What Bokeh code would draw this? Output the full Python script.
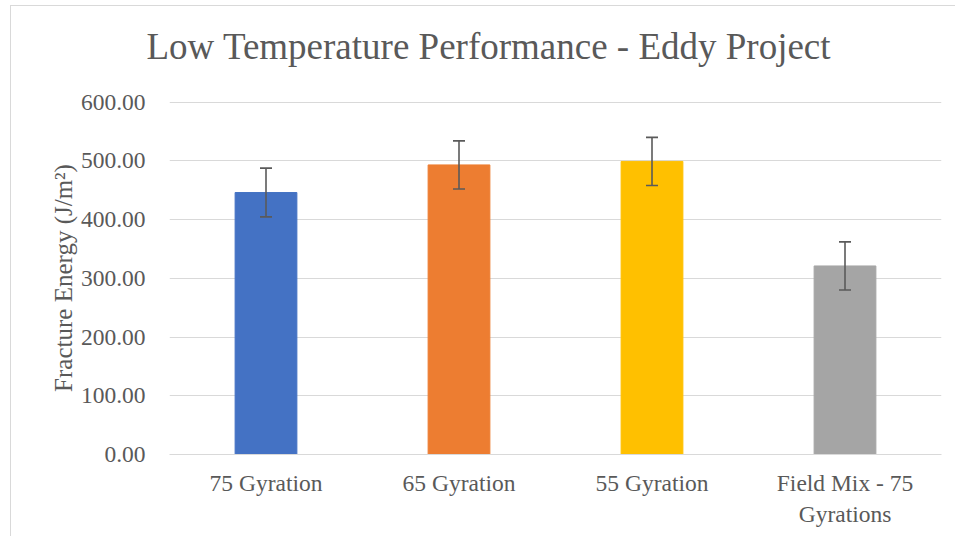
from bokeh.plotting import figure
from bokeh.models import (ColumnDataSource, Whisker, TeeHead, Range1d,
                          NumeralTickFormatter, FactorRange, Title)
from bokeh.embed import file_html
from bokeh.resources import INLINE

# ---- data ----
categories = ["75 Gyration", "65 Gyration", "55 Gyration", "Field Mix - 75\nGyrations"]
values = [446.0, 493.0, 499.0, 321.0]
errors = [41.5, 41.0, 41.0, 41.0]
bar_colors = ["#4472C4", "#ED7D31", "#FFC000", "#A5A5A5"]
y_ticks = [0, 100, 200, 300, 400, 500, 600]

TEXT = "#595959"
GRID = "#D9D9D9"
FONT = "Liberation Serif"

src = ColumnDataSource(dict(
    cat=categories,
    val=values,
    upper=[v + e for v, e in zip(values, errors)],
    lower=[v - e for v, e in zip(values, errors)],
    color=bar_colors,
))

p = figure(x_range=FactorRange(*categories), y_range=Range1d(0, 601),
           width=945, height=531, output_backend="svg", toolbar_location=None,
           min_border_left=158, min_border_right=15,
           min_border_top=95, min_border_bottom=83)

p.title = Title(text="Low Temperature Performance - Eddy Project",
                text_font=FONT, text_font_size="37px", text_font_style="normal",
                text_color=TEXT, align="left", offset=-23, standoff=10,
                padding=dict(left=0, right=0, top=0, bottom=30))

p.vbar(x="cat", top="val", width=0.32, color="color", source=src)

whisk = Whisker(base="cat", upper="upper", lower="lower", source=src,
                line_color="#5A5A5A", line_width=1.6, level="annotation",
                upper_head=TeeHead(size=12, line_color="#5A5A5A", line_width=1.6),
                lower_head=TeeHead(size=12, line_color="#5A5A5A", line_width=1.6))
p.add_layout(whisk)

# frame / grid
p.outline_line_color = None
p.xgrid.grid_line_color = None
p.ygrid.grid_line_color = GRID
p.ygrid.grid_line_width = 1
p.background_fill_color = "white"
p.border_fill_color = "white"

# y axis
p.yaxis.ticker = y_ticks
p.yaxis.formatter = NumeralTickFormatter(format="0.00")
p.yaxis.axis_line_color = None
p.yaxis.major_tick_line_color = None
p.yaxis.minor_tick_line_color = None
p.yaxis.major_label_text_font = FONT
p.yaxis.major_label_text_font_size = "23.5px"
p.yaxis.major_label_text_color = TEXT
p.yaxis.major_label_standoff = 18
p.yaxis.axis_label = "Fracture Energy (J/m²)"
p.yaxis.axis_label_text_font = FONT
p.yaxis.axis_label_text_font_size = "25px"
p.yaxis.axis_label_text_font_style = "normal"
p.yaxis.axis_label_text_color = TEXT
p.yaxis.axis_label_standoff = 1

# x axis
p.xaxis.axis_line_color = GRID
p.xaxis.axis_line_width = 1
p.xaxis.major_tick_line_color = None
p.xaxis.minor_tick_line_color = None
p.xaxis.major_label_text_font = FONT
p.xaxis.major_label_text_font_size = "23.5px"
p.xaxis.major_label_text_color = TEXT
p.xaxis.major_label_standoff = 9

p.styles = {"margin-left": "10px", "margin-top": "5px",
            "border-top": "1px solid #D9D9D9", "border-left": "1px solid #D9D9D9"}

open("out.html", "w").write(file_html(p, INLINE))
